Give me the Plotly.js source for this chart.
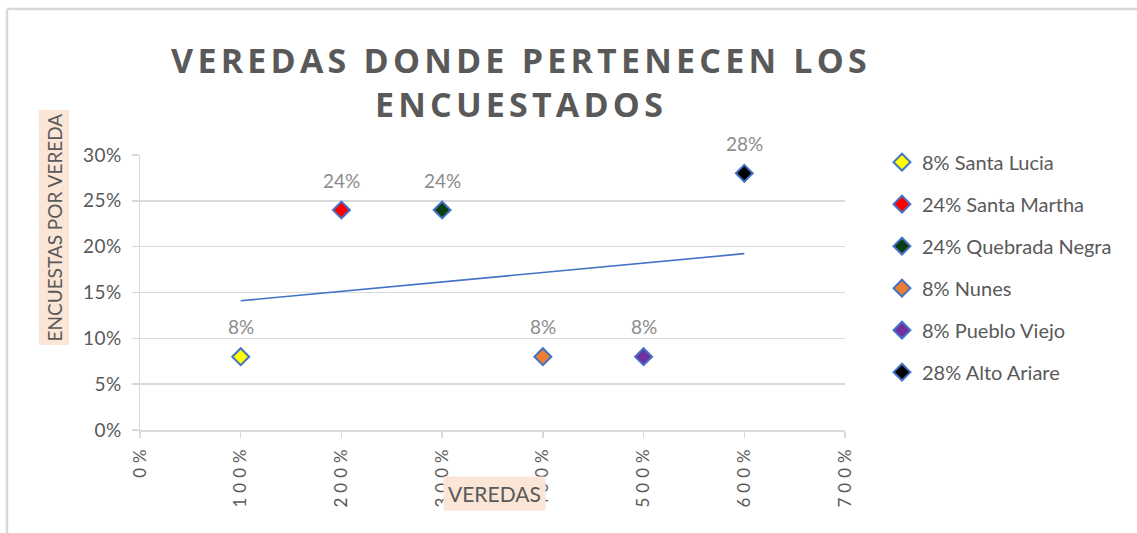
<!DOCTYPE html>
<html>
<head>
<meta charset="utf-8">
<script src="https://cdn.plot.ly/plotly-3.0.1.min.js"></script>
<style>
  html, body { margin: 0; padding: 0; background: #fff; }
  #chart { width: 1137px; height: 533px; }
  .main-svg .gtitle { letter-spacing: 4.2px; }
  .main-svg .xtick text { letter-spacing: 5px; }
  .main-svg .ytick text { letter-spacing: 0.5px; }
</style>
</head>
<body>
<div id="chart"></div>
<script>
// ---- data ----
const veredas = ["Santa Lucia", "Santa Martha", "Quebrada Negra", "Nunes", "Pueblo Viejo", "Alto Ariare"];
const xValues = [1, 2, 3, 4, 5, 6];            // 100% .. 600%
const yValues = [0.08, 0.24, 0.24, 0.08, 0.08, 0.28];
const fillColors = ["#FFFF00", "#FF0000", "#0B3D12", "#ED7D31", "#7030A0", "#000000"];
const xTickVals = [0, 1, 2, 3, 4, 5, 6, 7];
const xTickText = ["0%", "100%", "200%", "300%", "400%", "500%", "600%", "700%"];
const yTickVals = [0, 0.05, 0.10, 0.15, 0.20, 0.25, 0.30];

const pct = v => Math.round(v * 100) + "%";

const traces = veredas.map((name, i) => ({
  type: "scatter",
  mode: "markers",
  x: [xValues[i]],
  y: [yValues[i]],
  name: pct(yValues[i]) + " " + name,
  legendgroup: "g" + i,
  marker: { symbol: "diamond", size: 13, color: fillColors[i], line: { color: "#4472C4", width: 2 } },
  hoverinfo: "name"
}));

// linear trendline (least squares from the data)
const n = xValues.length;
const mx = xValues.reduce((a, b) => a + b, 0) / n;
const my = yValues.reduce((a, b) => a + b, 0) / n;
let sxy = 0, sxx = 0;
for (let i = 0; i < n; i++) { sxy += (xValues[i] - mx) * (yValues[i] - my); sxx += (xValues[i] - mx) ** 2; }
const slope = sxy / sxx, icpt = my - slope * mx;
const tx = [xValues[0], xValues[n - 1]];
traces.push({
  type: "scatter", mode: "lines", x: tx, y: tx.map(v => icpt + slope * v),
  line: { color: "#4472C4", width: 1.6 }, showlegend: false, hoverinfo: "skip"
});

const labelAnns = xValues.map((x, i) => ({
  x: x, y: yValues[i], xref: "x", yref: "y", text: pct(yValues[i]),
  showarrow: false, yshift: 30, font: { family: "Lato, 'Open Sans', sans-serif", size: 19, color: "#8C8C8C" }
}));

const layout = {
  width: 1137, height: 533,
  margin: { l: 140, r: 292, t: 155, b: 103, autoexpand: false },
  paper_bgcolor: "#ffffff", plot_bgcolor: "#ffffff",
  font: { family: "Lato, 'Open Sans', sans-serif", color: "#595959" },
  title: {
    text: "VEREDAS DONDE PERTENECEN LOS<br>ENCUESTADOS",
    font: { family: "'Open Sans', sans-serif", size: 34, color: "#595959", weight: 700 },
    x: 521 / 1137, xanchor: "center", xref: "container",
    y: 1 - 73 / 533, yanchor: "top", yref: "container"
  },
  xaxis: {
    range: [0, 7], tickvals: xTickVals, ticktext: xTickText, tickangle: -90,
    showgrid: false, zeroline: false, showline: true, linecolor: "#D9D9D9", linewidth: 1.5,
    ticks: "outside", ticklen: 6, tickcolor: "#D9D9D9", tickwidth: 1.5,
    tickfont: { size: 17, color: "#595959", family: "Lato, sans-serif" }, automargin: false, fixedrange: true
  },
  yaxis: {
    range: [0, 0.30], tickvals: yTickVals, tickformat: ".0%",
    showgrid: true, gridcolor: "#D9D9D9", gridwidth: 1.5, zeroline: false,
    showline: true, linecolor: "#D9D9D9", linewidth: 1.5,
    ticks: "outside", ticklen: 7, tickcolor: "#D9D9D9", tickwidth: 1.5, ticklabelstandoff: 6,
    tickfont: { size: 19, color: "#595959", family: "Lato, sans-serif" }, automargin: false, fixedrange: true
  },
  legend: {
    x: (882 - 140) / 705, xanchor: "left", y: 1.045, yanchor: "top",
    font: { size: 20, color: "#595959", family: "Lato, sans-serif" },
    tracegroupgap: 13, itemclick: false, bgcolor: "rgba(0,0,0,0)"
  },
  annotations: labelAnns.concat([
    {
      text: "ENCUESTAS POR VEREDA", xref: "paper", yref: "paper",
      x: (53.5 - 140) / 705, y: (430 - 228) / 275, xanchor: "center", yanchor: "middle",
      textangle: -90, showarrow: false, bgcolor: "#FBE5D6", borderpad: 3,
      font: { size: 19, color: "#595959", family: "Lato, sans-serif" }
    },
    {
      text: "VEREDAS", xref: "paper", yref: "paper",
      x: (495 - 140) / 705, y: -(493 - 430) / 275, xanchor: "center", yanchor: "middle",
      showarrow: false, bgcolor: "#FBE5D6", borderpad: 4,
      font: { size: 21, color: "#595959", family: "Lato, sans-serif" }
    }
  ]),
  shapes: [
    { type: "line", xref: "paper", yref: "paper", x0: (7 - 140) / 705, x1: (1137 - 140) / 705, y0: (430 - 9) / 275, y1: (430 - 9) / 275, line: { color: "#D9D9D9", width: 2.5 } },
    { type: "line", xref: "paper", yref: "paper", x0: (7 - 140) / 705, x1: (7 - 140) / 705, y0: (430 - 9) / 275, y1: (430 - 533) / 275, line: { color: "#D9D9D9", width: 2.5 } }
  ],
  showlegend: true
};

Plotly.newPlot("chart", traces, layout, { displayModeBar: false, staticPlot: true });
</script>
</body>
</html>
